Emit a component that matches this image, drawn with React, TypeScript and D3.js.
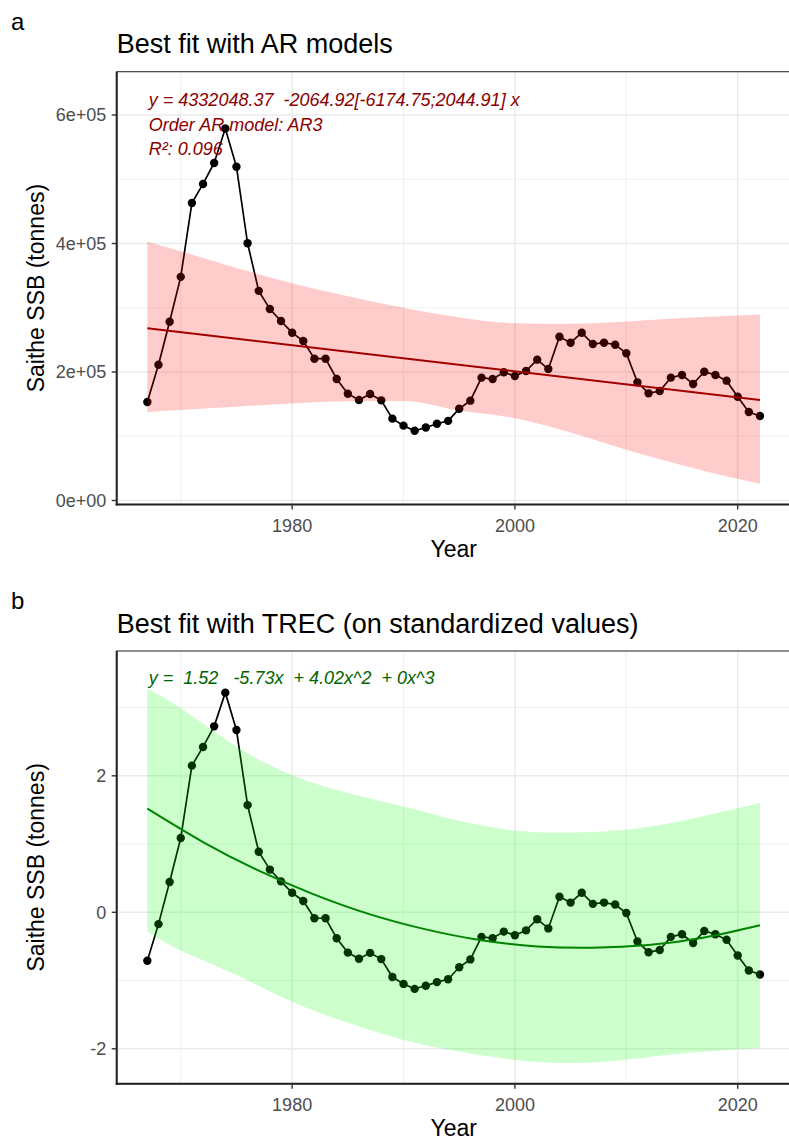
import React from 'react';
import * as d3 from 'd3';

// ---------- data ----------
const years: number[] = d3.range(1967, 2023);
const ssb: number[] = [
  153300, 211400, 278300, 348100, 463000, 492700, 525400, 578900, 519500, 400300,
  326300, 298000, 279300, 261200, 248200, 220700, 220700, 189100, 166200, 156400,
  165800, 155900, 127400, 116500, 108600, 113600, 119400, 123900, 142900, 155400,
  191200, 189100, 199500, 193700, 201500, 219200, 204600, 254900, 245600, 261200,
  243600, 245600, 242500, 229100, 183900, 166800, 170400, 191200, 195300, 181400,
  200500, 195300, 186500, 161500, 137800, 131500,
];

const xTicks = [1980, 2000, 2020];
const xMinor = [1970, 1990, 2010];

// panel a
const yTicksA = [0, 200000, 400000, 600000];
const yTickLabelsA = ['0e+00', '2e+05', '4e+05', '6e+05'];
const yMinorA = [100000, 300000, 500000];
const fitYearsA = [1967, 2022];
const fitA = [268000, 156400];
const bandYearsA = [1967, 1970, 1975, 1980, 1985, 1990, 1995, 2000, 2005, 2010, 2015, 2022];
const upperA = [402800, 388000, 362000, 338000, 318000, 300000, 285000, 276000, 275000, 278600, 284000, 289600];
const lowerA = [137800, 141000, 146000, 151000, 154500, 155000, 140000, 128000, 106000, 79000, 55000, 26000];
const eqA = ['y = 4332048.37  -2064.92[-6174.75;2044.91] x', 'Order AR model: AR3', 'R²: 0.096'];

// panel b
const yTicksB = [-2, 0, 2];
const yTickLabelsB = ['-2', '0', '2'];
const yMinorB = [-1, 1, 3];
const fitYearsB = [1967, 1972, 1977, 1982, 1987, 1992, 1997, 2002, 2007, 2012, 2017, 2022];
const fitB = [1.52, 1.03, 0.61, 0.26, -0.03, -0.25, -0.41, -0.5, -0.52, -0.48, -0.37, -0.19];
const bandYearsB = [1967, 1970, 1975, 1980, 1985, 1990, 1995, 2000, 2005, 2010, 2015, 2022];
const upperB = [3.28, 2.99, 2.43, 2.01, 1.75, 1.55, 1.34, 1.2, 1.17, 1.21, 1.34, 1.6];
const lowerB = [-0.28, -0.56, -0.92, -1.31, -1.62, -1.87, -2.04, -2.16, -2.21, -2.16, -2.07, -1.99];
const eqB = ['y =  1.52   -5.73x  + 4.02x^2  + 0x^3'];

// standardized series for panel b
const ssbMean = d3.mean(ssb) as number;
const ssbSd = d3.deviation(ssb) as number;
const ssbStd = ssb.map((v) => (v - ssbMean) / ssbSd);

// ---------- layout ----------
const FONT = '"Liberation Sans", Arial, Helvetica, sans-serif';
const W = 789;
const H = 1140;
const L = 116.7;
const R = 790.6;
const TOP = 71.7;
const BOT = 504.5;
const OFFSET_B = 579.3;

type PanelProps = {
  oy: number;
  domain: [number, number];
  values: number[];
  ticks: number[];
  tickLabels: string[];
  minor: number[];
  fitYears: number[];
  fit: number[];
  fitCurve: d3.CurveFactory;
  bandCurve: d3.CurveFactory;
  bandYears: number[];
  upper: number[];
  lower: number[];
  lineColor: string;
  bandColor: string;
  texts: string[];
  textColor: string;
  title: string;
  tag: string;
  id: string;
};

function Panel(p: PanelProps) {
  const top = p.oy + TOP;
  const bot = p.oy + BOT;
  const x = d3.scaleLinear().domain([1964.25, 2024.75]).range([L, R]);
  const y = d3.scaleLinear().domain(p.domain).range([bot, top]);

  const dataLine = d3
    .line<number>()
    .x((_, i) => x(years[i]))
    .y((d) => y(d))(p.values) as string;
  const fitLine = d3
    .line<number>()
    .curve(p.fitCurve)
    .x((_, i) => x(p.fitYears[i]))
    .y((d) => y(d))(p.fit) as string;
  const band = d3
    .area<number>()
    .curve(p.bandCurve)
    .x((_, i) => x(p.bandYears[i]))
    .y0((_, i) => y(p.lower[i]))
    .y1((d) => y(d))(p.upper) as string;

  const clipId = `clip-${p.id}`;
  return (
    <g>
      <text x={11} y={p.oy + 29.7} fontSize={24} fontFamily={FONT} fill="#000">
        {p.tag}
      </text>
      <text x={L} y={p.oy + 53.4} fontSize={27} fontFamily={FONT} fill="#000">
        {p.title}
      </text>
      <defs>
        <clipPath id={clipId}>
          <rect x={L} y={top} width={R - L} height={bot - top} />
        </clipPath>
      </defs>
      <rect x={L} y={top} width={R - L} height={bot - top} fill="#fff" />
      <g clipPath={`url(#${clipId})`}>
        {p.minor.map((t) => (
          <line key={`ym${t}`} x1={L} x2={R} y1={y(t)} y2={y(t)} stroke="#EBEBEB" strokeWidth={0.8} />
        ))}
        {xMinor.map((t) => (
          <line key={`xm${t}`} x1={x(t)} x2={x(t)} y1={top} y2={bot} stroke="#EBEBEB" strokeWidth={0.8} />
        ))}
        {p.ticks.map((t) => (
          <line key={`yM${t}`} x1={L} x2={R} y1={y(t)} y2={y(t)} stroke="#EBEBEB" strokeWidth={1.6} />
        ))}
        {xTicks.map((t) => (
          <line key={`xM${t}`} x1={x(t)} x2={x(t)} y1={top} y2={bot} stroke="#EBEBEB" strokeWidth={1.6} />
        ))}
        <path d={dataLine} fill="none" stroke="#000" strokeWidth={1.7} />
        {p.values.map((v, i) => (
          <circle key={i} cx={x(years[i])} cy={y(v)} r={4.2} fill="#000" />
        ))}
        <path d={fitLine} fill="none" stroke={p.lineColor} strokeWidth={2} />
        <path d={band} fill={p.bandColor} fillOpacity={0.2} stroke="none" />
        {p.texts.map((t, i) => (
          <text
            key={i}
            x={x(1967) + 1.5}
            y={p.oy + (p.texts.length > 1 ? 106 : 105) + i * 24.5}
            fontSize={18}
            fontStyle="italic"
            fontFamily={FONT}
            fill={p.textColor}
            style={{ whiteSpace: 'pre' }}
          >
            {t}
          </text>
        ))}
      </g>
      <rect x={L} y={top} width={R - L} height={bot - top} fill="none" stroke="#333" strokeWidth={1.1} />
      <line x1={L} x2={L} y1={top} y2={bot + 1} stroke="#222" strokeWidth={2} />
      <line x1={L - 1} x2={R} y1={bot} y2={bot} stroke="#222" strokeWidth={2} />
      {p.ticks.map((t, i) => (
        <g key={`yt${t}`}>
          <line x1={L - 5} x2={L} y1={y(t)} y2={y(t)} stroke="#333" strokeWidth={1.4} />
          <text
            x={L - 10.5}
            y={y(t) + 6.3}
            textAnchor="end"
            fontSize={18}
            fontFamily={FONT}
            fill="#4D4D4D"
          >
            {p.tickLabels[i]}
          </text>
        </g>
      ))}
      {xTicks.map((t) => (
        <g key={`xt${t}`}>
          <line x1={x(t)} x2={x(t)} y1={bot} y2={bot + 5} stroke="#333" strokeWidth={1.4} />
          <text x={x(t)} y={bot + 27} textAnchor="middle" fontSize={18} fontFamily={FONT} fill="#4D4D4D">
            {t}
          </text>
        </g>
      ))}
      <text
        x={(L + R) / 2}
        y={p.oy + 556.5}
        textAnchor="middle"
        fontSize={23}
        fontFamily={FONT}
        fill="#000"
      >
        Year
      </text>
      <text
        transform={`translate(44, ${(top + bot) / 2}) rotate(-90)`}
        textAnchor="middle"
        fontSize={23}
        fontFamily={FONT}
        fill="#000"
      >
        Saithe SSB (tonnes)
      </text>
    </g>
  );
}

export default function App() {
  const yDomA: [number, number] = [-6226, 667393];
  const yDomB: [number, number] = [-2.513, 3.829];
  return (
    <svg
      width={W}
      height={H}
      viewBox={`0 0 ${W} ${H}`}
      style={{ position: 'absolute', left: 0, top: 0, background: '#fff' }}
    >
      <rect x={0} y={0} width={W} height={H} fill="#fff" />
      <Panel
        id="a"
        oy={0}
        domain={yDomA}
        values={ssb}
        ticks={yTicksA}
        tickLabels={yTickLabelsA}
        minor={yMinorA}
        fitYears={fitYearsA}
        fit={fitA}
        fitCurve={d3.curveLinear}
        bandCurve={d3.curveMonotoneX}
        bandYears={bandYearsA}
        upper={upperA}
        lower={lowerA}
        lineColor="#8B0000"
        bandColor="#FF0000"
        texts={eqA}
        textColor="#8B0000"
        title="Best fit with AR models"
        tag="a"
      />
      <Panel
        id="b"
        oy={OFFSET_B}
        domain={yDomB}
        values={ssbStd}
        ticks={yTicksB}
        tickLabels={yTickLabelsB}
        minor={yMinorB}
        fitYears={fitYearsB}
        fit={fitB}
        fitCurve={d3.curveNatural}
        bandCurve={d3.curveNatural}
        bandYears={bandYearsB}
        upper={upperB}
        lower={lowerB}
        lineColor="#006400"
        bandColor="#00FF00"
        texts={eqB}
        textColor="#006400"
        title="Best fit with TREC (on standardized values)"
        tag="b"
      />
    </svg>
  );
}
